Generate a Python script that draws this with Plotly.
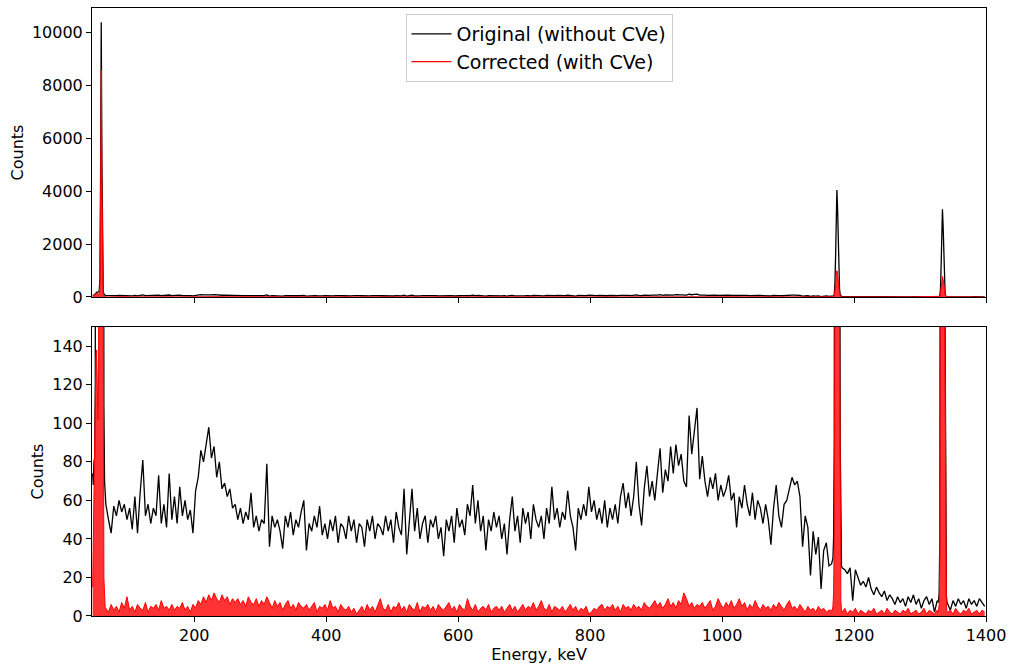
import plotly.graph_objects as go
from plotly.subplots import make_subplots

# ---- Am-241 line region, 1 keV bins ----
am_energy = list(range(46, 66))
am_orig = [74, 68, 80, 82, 120, 160, 175, 185, 180, 195,
           240, 700, 4600, 10400, 5200, 900, 230, 110, 70, 60]
am_corr = [15, 40, 80, 110, 128, 135, 138, 118, 102, 112,
           126, 420, 3900, 8580, 4300, 700, 160, 20, 6, 4]

# ---- continuum 66-1166 keV, 4 keV steps ----
cont_a_energy = list(range(66, 1167, 4))
cont_a_orig = (
    [58, 50, 43, 57, 52, 60, 54, 58, 50, 56, 45, 62, 43, 64, 81, 52, 58, 48, 56, 52, 73, 48, 58, 46, 74]
    + [50, 62, 48, 67, 52, 60, 50, 55, 43, 65, 72, 86, 80, 90, 98, 82, 88, 72, 80, 66, 69, 62, 66, 56, 58]
    + [50, 56, 48, 54, 50, 64, 46, 52, 44, 50, 48, 79, 36, 52, 46, 50, 44, 35, 52, 46, 54, 42, 50, 46, 54]
    + [60, 34, 48, 44, 52, 46, 57, 42, 48, 40, 50, 44, 52, 38, 48, 46, 40, 52, 44, 50, 38, 48, 46, 36, 50]
    + [44, 52, 40, 48, 46, 42, 52, 44, 50, 38, 54, 46, 42, 66, 32, 50, 66, 44, 56, 40, 48, 52, 38, 50, 46]
    + [52, 40, 46, 31, 50, 44, 52, 38, 56, 46, 50, 42, 58, 52, 68, 48, 60, 44, 52, 34, 50, 44, 54, 46, 52]
    + [40, 48, 32, 50, 62, 44, 52, 38, 56, 48, 54, 40, 58, 50, 46, 52, 40, 56, 48, 67, 50, 56, 46, 54, 50]
    + [65, 52, 46, 34, 56, 50, 58, 52, 67, 54, 60, 50, 56, 48, 60, 46, 56, 50, 58, 48, 62, 69, 56, 64, 52]
    + [62, 80, 58, 47, 66, 78, 62, 70, 60, 74, 87, 64, 76, 70, 88, 74, 89, 78, 84, 70, 67, 104, 84, 96, 108]
    + [71, 83, 70, 62, 72, 66, 74, 60, 68, 62, 66, 73, 60, 64, 46, 62, 56, 68, 58, 52, 64, 50, 60, 56, 48]
    + [58, 50, 37, 56, 68, 52, 46, 58, 60, 66, 72, 68, 70, 62, 36, 52, 46, 21, 44, 32, 41, 14, 34, 38, 26]
    + [27]
)
cont_a_corr = (
    [4, 2, 6, 3, 5, 2, 7, 4, 10, 3, 5, 2, 6, 4, 3, 7, 2, 5, 4, 6, 3, 8, 4, 5, 3]
    + [6, 3, 5, 4, 7, 3, 5, 2, 6, 4, 8, 6, 10, 7, 11, 8, 12, 9, 7, 11, 8, 10, 6, 9, 7]
    + [9, 6, 8, 5, 10, 7, 6, 9, 5, 8, 6, 10, 7, 4, 8, 5, 7, 3, 6, 8, 4, 6, 3, 7, 5]
    + [4, 6, 3, 5, 7, 2, 5, 4, 6, 3, 8, 4, 5, 2, 6, 4, 3, 5, 2, 4, 1, 3, 5, 2, 6]
    + [3, 5, 2, 6, 9, 4, 3, 6, 2, 5, 4, 7, 3, 5, 2, 6, 4, 3, 7, 2, 5, 4, 6, 3, 5]
    + [2, 6, 4, 3, 5, 7, 3, 5, 2, 6, 4, 3, 9, 5, 3, 6, 2, 4, 5, 3, 6, 2, 4, 5, 3]
    + [5, 2, 4, 6, 3, 5, 2, 4, 6, 3, 5, 4, 7, 3, 5, 8, 4, 3, 6, 2, 5, 4, 3, 5, 2]
    + [4, 6, 3, 5, 2, 4, 3, 5, 1, 2, 4, 3, 5, 6, 3, 5, 4, 6, 3, 5, 2, 6, 4, 5, 3]
    + [6, 4, 5, 3, 7, 5, 4, 6, 8, 5, 7, 4, 6, 9, 5, 7, 4, 8, 6, 12, 9, 5, 7, 4, 6]
    + [5, 7, 4, 6, 8, 3, 5, 9, 6, 4, 7, 5, 8, 4, 6, 9, 5, 7, 3, 6, 4, 8, 5, 3, 6]
    + [4, 5, 3, 6, 4, 7, 5, 3, 6, 8, 4, 5, 3, 6, 4, 2, 5, 3, 4, 2, 5, 3, 4, 2, 3]
    + [3]
)

# ---- Co-60 1173 keV line, 1 keV bins ----
co1_energy = list(range(1167, 1182))
co1_orig = [28, 30, 40, 90, 500, 1500, 3000, 4050, 3400, 1900, 800, 300, 90, 35, 26]
co1_corr = [3, 5, 12, 40, 170, 450, 800, 1000, 850, 500, 250, 160, 50, 8, 3]

# ---- continuum 1182-1326 keV, 4 keV steps ----
cont_b_energy = list(range(1182, 1327, 4))
cont_b_orig = [25, 24, 22, 25, 8, 24, 20, 16, 18, 15, 20, 14, 11, 15, 12, 10, 13, 8, 11, 9, 6,
               10, 7, 9, 5, 10, 7, 11, 6, 9, 4, 8, 10, 6, 9, 2, 8]
cont_b_corr = [2, 4, 1, 3, 2, 4, 1, 3, 2, 1, 3, 2, 4, 1, 2, 3, 1, 4, 2, 1,
               3, 2, 1, 3, 2, 4, 1, 2, 3, 1, 2, 4, 1, 3, 2, 1, 3]

# ---- Co-60 1332 keV line, 1 keV bins ----
co2_energy = list(range(1327, 1342))
co2_orig = [7, 8, 12, 40, 300, 1200, 2600, 3320, 2700, 1400, 500, 150, 40, 10, 7]
co2_corr = [2, 3, 6, 25, 140, 380, 650, 780, 660, 400, 200, 120, 30, 5, 2]

# ---- continuum 1342-1398 keV, 4 keV steps ----
cont_c_energy = list(range(1342, 1399, 4))
cont_c_orig = [6, 3, 8, 5, 9, 6, 8, 4, 9, 6, 8, 5, 9, 7, 5]
cont_c_corr = [2, 3, 1, 4, 2, 1, 3, 2, 4, 1, 2, 3, 1, 3, 2]

energy = am_energy + cont_a_energy + co1_energy + cont_b_energy + co2_energy + cont_c_energy
counts_orig = am_orig + cont_a_orig + co1_orig + cont_b_orig + co2_orig + cont_c_orig
counts_corr = am_corr + cont_a_corr + co1_corr + cont_b_corr + co2_corr + cont_c_corr

energy_ticks = [200, 400, 600, 800, 1000, 1200, 1400]
full_ticks = [0, 2000, 4000, 6000, 8000, 10000]
zoom_ticks = [0, 20, 40, 60, 80, 100, 120, 140]

FONT = "DejaVu Sans"
BLACK = "#000000"
RED = "#ff0000"

fig = make_subplots(rows=2, cols=1, shared_xaxes=True, vertical_spacing=0.05)

for row in (1, 2):
    fig.add_trace(go.Scatter(
        x=energy, y=counts_orig, mode="lines",
        line=dict(color=BLACK, width=1.3),
        name="Original (without CVe)", showlegend=(row == 1),
        hoverinfo="skip"), row=row, col=1)
    fig.add_trace(go.Scatter(
        x=energy, y=counts_corr, mode="lines", fill="tozeroy",
        fillcolor="rgba(255,0,0,0.8)",
        line=dict(color=RED, width=1),
        name="Corrected (with CVe)", showlegend=False,
        hoverinfo="skip"), row=row, col=1)

# legend key for the corrected spectrum (plain line sample)
fig.add_trace(go.Scatter(
    x=[None], y=[None], mode="lines", line=dict(color=RED, width=1.2),
    name="Corrected (with CVe)", showlegend=True), row=1, col=1)

axis_common = dict(
    showline=True, linecolor="black", linewidth=1, mirror=True,
    ticks="outside", ticklen=5, tickwidth=1, tickcolor="black",
    showgrid=False, zeroline=False, automargin=False,
    tickfont=dict(family=FONT, size=16, color="black"),
)

fig.update_xaxes(range=[45, 1400], tickvals=energy_ticks, **axis_common)
fig.update_xaxes(showticklabels=False, row=1, col=1)
fig.update_xaxes(ticktext=[str(v) for v in energy_ticks],
                 title=dict(text="Energy, keV", font=dict(family=FONT, size=16, color="black"),
                            standoff=4), row=2, col=1)

fig.update_yaxes(**axis_common)
fig.update_yaxes(range=[0, 10940], tickvals=full_ticks,
                 ticktext=[str(v) for v in full_ticks],
                 domain=[0.5247, 1.0],
                 title=dict(text="Counts", font=dict(family=FONT, size=16, color="black"),
                            standoff=4), row=1, col=1)
fig.update_yaxes(range=[0, 150], tickvals=zoom_ticks,
                 ticktext=[str(v) for v in zoom_ticks],
                 domain=[0.0, 0.4753],
                 title=dict(text="Counts", font=dict(family=FONT, size=16, color="black"),
                            standoff=4), row=2, col=1)

fig.update_layout(
    width=1015, height=666,
    margin=dict(l=92, r=29, t=8, b=50),
    paper_bgcolor="white", plot_bgcolor="white",
    font=dict(family=FONT, size=16, color="black"),
    showlegend=True,
    legend=dict(x=0.5, xanchor="center", y=0.99, yanchor="top",
                bgcolor="rgba(255,255,255,0.8)", bordercolor="#cccccc", borderwidth=1,
                font=dict(family=FONT, size=19, color="black"),
                itemwidth=40, tracegroupgap=0),
)

fig.write_html("out.html")
